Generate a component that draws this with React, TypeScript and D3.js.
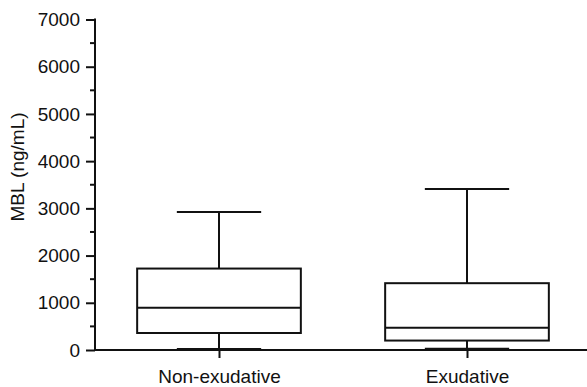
import React, { useEffect, useRef } from "react";
import * as d3 from "d3";

// --- Box plot summary values (ng/mL) ---
const groups = ["Non-exudative", "Exudative"];
const minVals = [20, 25];
const q1Vals = [360, 200];
const medianVals = [895, 470];
const q3Vals = [1725, 1415];
const maxVals = [2925, 3410];
const majorTicks = [0, 1000, 2000, 3000, 4000, 5000, 6000, 7000];
const minorTicks = [500, 1500, 2500, 3500, 4500, 5500, 6500];

const WIDTH = 587;
const HEIGHT = 387;
const FONT = "'Liberation Sans', Arial, Helvetica, sans-serif";
const INK = "#111";

export default function App() {
    const svgRef = useRef<SVGSVGElement>(null);

    useEffect(() => {
        const svg = d3.select(svgRef.current);
        svg.selectAll("*").remove();

        const left = 95;
        const bottom = 350;

        const y = d3.scaleLinear().domain([0, 7000]).range([bottom, 19.5]);
        const x = d3.scalePoint<string>().domain(groups).range([left, 591]).padding(0.5);
        const boxW = x.step() * 0.66;
        const capW = x.step() * 0.34;

        // --- Y axis ---
        const yAxis = svg.append("g").attr("transform", `translate(${left},0)`);
        yAxis.call(
            d3.axisLeft(y).tickValues(majorTicks).tickSize(9).tickPadding(6).tickFormat(d3.format("d"))
        );
        yAxis.select(".domain").remove();
        yAxis.selectAll(".tick line").attr("stroke", INK).attr("stroke-width", 2);
        yAxis.selectAll(".tick text")
            .attr("fill", INK)
            .style("font-family", FONT)
            .style("font-size", "19px");
        yAxis.selectAll(".minor")
            .data(minorTicks)
            .join("line")
            .attr("x1", -5)
            .attr("x2", 0)
            .attr("y1", d => y(d))
            .attr("y2", d => y(d))
            .attr("stroke", INK)
            .attr("stroke-width", 2);
        yAxis.append("line")
            .attr("x1", 0).attr("x2", 0)
            .attr("y1", y(7000) - 1).attr("y2", bottom + 1)
            .attr("stroke", INK).attr("stroke-width", 2);

        // --- X axis ---
        const xAxis = svg.append("g").attr("transform", `translate(0,${bottom})`);
        xAxis.call(d3.axisBottom(x).tickSize(8).tickPadding(12));
        xAxis.select(".domain").remove();
        xAxis.selectAll(".tick line").attr("stroke", INK).attr("stroke-width", 2);
        xAxis.selectAll(".tick text")
            .attr("fill", INK)
            .style("font-family", FONT)
            .style("font-size", "19px");
        xAxis.append("line")
            .attr("x1", left).attr("x2", WIDTH)
            .attr("y1", 0).attr("y2", 0)
            .attr("stroke", INK).attr("stroke-width", 2);

        // --- Y label ---
        svg.append("text")
            .attr("transform", `translate(24,167) rotate(-90)`)
            .attr("text-anchor", "middle")
            .attr("fill", INK)
            .style("font-family", FONT)
            .style("font-size", "19px")
            .text("MBL (ng/mL)");

        // --- Boxes ---
        const boxes = svg.append("g")
            .attr("fill", "none")
            .attr("stroke", INK)
            .attr("stroke-width", 2);

        groups.forEach((g, i) => {
            const cx = x(g) as number;
            const grp = boxes.append("g");
            // whiskers
            grp.append("line")
                .attr("x1", cx).attr("x2", cx)
                .attr("y1", y(q3Vals[i])).attr("y2", y(maxVals[i]));
            grp.append("line")
                .attr("x1", cx).attr("x2", cx)
                .attr("y1", y(q1Vals[i])).attr("y2", y(minVals[i]));
            // caps
            [maxVals[i], minVals[i]].forEach(v => {
                grp.append("line")
                    .attr("x1", cx - capW / 2).attr("x2", cx + capW / 2)
                    .attr("y1", y(v)).attr("y2", y(v));
            });
            // box
            grp.append("rect")
                .attr("x", cx - boxW / 2)
                .attr("y", y(q3Vals[i]))
                .attr("width", boxW)
                .attr("height", y(q1Vals[i]) - y(q3Vals[i]))
                .attr("fill", "#fff");
            // median
            grp.append("line")
                .attr("x1", cx - boxW / 2).attr("x2", cx + boxW / 2)
                .attr("y1", y(medianVals[i])).attr("y2", y(medianVals[i]));
        });
    }, []);

    return (
        <svg
            ref={svgRef}
            width={WIDTH}
            height={HEIGHT}
            style={{ position: "absolute", left: 0, top: 0, background: "#fff" }}
        />
    );
}
